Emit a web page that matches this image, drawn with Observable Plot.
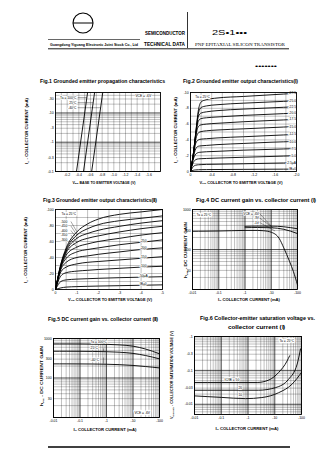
<!DOCTYPE html>
<html><head><meta charset="utf-8">
<script src="https://cdn.jsdelivr.net/npm/d3@7"></script>
<script src="https://cdn.jsdelivr.net/npm/@observablehq/plot@0.6"></script>
<style>
html,body{margin:0;padding:0;background:#fff;}
#root{position:relative;width:336px;height:475px;overflow:hidden;background:#fff;}
#root svg{position:absolute;overflow:visible;}
</style></head><body><div id="root"></div>
<script>
// ================= DATA =================
// Fig.1 propagation characteristics (|Ic| mA, log) vs VBE (V)
const fig1Temps = ["100°C", "25°C", "-40°C"];
const fig1IcEnds = [0.1, 50];               // |Ic| at bottom and top of each line
const fig1VbeAtLow = [-0.36, -0.48, -0.62];  // VBE at |Ic| = 0.1 mA
const fig1VbeAtHigh = [-0.55, -0.67, -0.81]; // VBE at |Ic| = 50 mA
const fig1XTicks = [-0.2, -0.4, -0.6, -0.8, -1.0, -1.2, -1.4, -1.6];
const fig1YTicks = [50, 30, 10, 5, 3, 1, 0.5, 0.3, 0.1];

// Fig.2 output characteristics (I)
const fig2Vce = [0, -0.05, -0.1, -0.15, -0.2, -0.3, -0.5, -1.0, -1.5, -2.0];
const fig2IbLabels = ["-27.5", "-25.0", "-22.5", "-20.0", "-17.5", "-15.0", "-12.5", "-10.0", "-7.5", "-5.0", "-2.5μA", "IB=0"];
const fig2Ic = [
  [0, -2.0, -5.0, -7.8, -8.8, -9.1, -9.3, -9.5, -9.7, -9.9],
  [0, -2.0, -4.9, -7.4, -8.1, -8.3, -8.45, -8.65, -8.8, -8.95],
  [0, -2.0, -4.8, -7.0, -7.4, -7.55, -7.7, -7.9, -8.05, -8.2],
  [0, -2.0, -4.7, -6.4, -6.7, -6.8, -6.9, -7.1, -7.25, -7.4],
  [0, -2.0, -4.5, -5.7, -5.9, -6.0, -6.1, -6.3, -6.45, -6.6],
  [0, -1.9, -4.1, -4.9, -5.05, -5.15, -5.25, -5.4, -5.55, -5.7],
  [0, -1.8, -3.6, -4.0, -4.1, -4.15, -4.25, -4.4, -4.55, -4.7],
  [0, -1.7, -2.9, -3.2, -3.25, -3.3, -3.4, -3.55, -3.7, -3.8],
  [0, -1.5, -2.2, -2.4, -2.45, -2.5, -2.55, -2.7, -2.8, -2.9],
  [0, -1.1, -1.5, -1.6, -1.62, -1.65, -1.7, -1.8, -1.9, -2.0],
  [0, -0.6, -0.8, -0.85, -0.87, -0.9, -0.92, -0.98, -1.05, -1.1],
  [0, -0.15, -0.2, -0.22, -0.23, -0.24, -0.25, -0.27, -0.29, -0.3]
];
const fig2XTicks = [0, -0.4, -0.8, -1.2, -1.6, -2.0];
const fig2YTicks = [0, -2, -4, -6, -8, -10];

// Fig.3 output characteristics (II)
const fig3Vce = [0, -0.25, -0.5, -1, -1.5, -2, -3, -4, -5];
const fig3Ib = ["-500", "-450", "-400", "-350", "-300", "-250", "-200", "-150", "-100", "-50μA", "IB=0"];
const fig3Ic = [
  [0, -32, -52, -72, -82, -88, -94, -97, -100],
  [0, -31, -50, -68, -76, -81, -86, -89, -92],
  [0, -30, -48, -64, -70, -74, -79, -83, -86],
  [0, -29, -46, -59, -64, -67, -72, -76, -79],
  [0, -28, -43, -53, -57, -60, -64, -68, -71],
  [0, -27, -39, -47, -50, -52, -56, -59, -62],
  [0, -25, -34, -40, -42, -44, -47, -50, -52],
  [0, -22, -28, -32, -34, -35, -37, -39, -41],
  [0, -17, -21, -23, -24, -25, -26.5, -28, -29],
  [0, -10, -12, -13, -13.5, -14, -14.8, -15.4, -16],
  [0, -2, -3, -3.6, -4, -4.3, -4.8, -5.3, -5.8]
];
const fig3XTicks = [0, -1, -2, -3, -4, -5];
const fig3YTicks = [0, -20, -40, -60, -80, -100];

// Fig.4 hFE vs |Ic| (mA), Ta = 25°C
const fig4Vce = ["-6V", "-3V", "-1V"];
const fig4Ic = [
  [1, 3, 10, 30, 100],
  [1, 3, 10, 30, 100],
  [0.01, 0.03, 0.1, 0.3, 1, 3, 5, 10, 20, 30, 50, 70, 100]
];
const fig4Hfe = [
  [380, 385, 385, 370, 330],
  [350, 355, 350, 320, 250],
  [285, 287, 290, 295, 300, 300, 295, 270, 190, 110, 50, 28, 13]
];
const icTicks = [0.01, 0.03, 0.1, 0.3, 1, 3, 10, 30, 100];
const hfeTicks = [1000, 300, 100, 30];

// Fig.5 hFE vs |Ic| (mA), VCE = -6V
const fig5Temps = ["100°C", "25°C", "-40°C"];
const fig5Ic = [0.01, 0.03, 0.1, 0.3, 1, 3, 10, 30, 100];
const fig5Hfe = [
  [730, 730, 728, 722, 712, 690, 640, 540, 410],
  [475, 475, 473, 470, 463, 450, 420, 370, 305],
  [228, 228, 227, 226, 223, 218, 208, 195, 180]
];

// Fig.6 |VCE(sat)| (V) vs |Ic| (mA)
const fig6Ratio = ["50", "20", "10"];
const fig6Ic = [
  [0.01, 0.1, 1, 2.2, 6, 14, 29, 36],
  [0.01, 0.1, 1, 2.5, 10.6, 33, 69, 92],
  [0.01, 0.1, 0.8, 3.3, 14, 44, 100]
];
const fig6Vsat = [
  [0.044, 0.044, 0.044, 0.044, 0.052, 0.087, 0.19, 0.27],
  [0.026, 0.026, 0.026, 0.026, 0.031, 0.055, 0.154, 0.43],
  [0.0177, 0.016, 0.0147, 0.0158, 0.022, 0.039, 0.087]
];
const fig6YTicks = [1, 0.3, 0.1, 0.03, 0.01];

// ================= DRAWING =================
const root = document.getElementById("root");
const FONT = "'Liberation Sans', Arial, sans-serif";
const minor = {stroke: "#000", strokeOpacity: 0.62, strokeWidth: 0.4};
const major = {stroke: "#000", strokeOpacity: 0.9, strokeWidth: 0.6};
const curve = {stroke: "#000", strokeWidth: 0.9};
const lab = {fontSize: 3.3, fill: "#000", stroke: "#fff", strokeWidth: 1.6};

function logGrid(lo, hi) {
  const out = [];
  for (let e = Math.floor(Math.log10(lo)) - 1; e <= Math.ceil(Math.log10(hi)); e++)
    for (let m = 1; m <= 9; m++) {
      const v = +(m * Math.pow(10, e)).toPrecision(3);
      if (v >= lo * 0.999 && v <= hi * 1.001) out.push(v);
    }
  return out;
}
const decades = v => v.filter(d => Math.abs(Math.log10(d) - Math.round(Math.log10(d))) < 1e-6);

function chart(o) {
  const [x0, y0, x1, y1] = o.rect;
  const svg = Plot.plot({
    width: x1 - x0 + o.ml + o.mr, height: y1 - y0 + o.mt + o.mb,
    marginLeft: o.ml, marginRight: o.mr, marginTop: o.mt, marginBottom: o.mb,
    x: Object.assign({label: null, tickSize: 0, tickPadding: 2.4}, o.x),
    y: Object.assign({label: null, tickSize: 0, tickPadding: 1.8}, o.y),
    style: {fontSize: "3.5px", fontFamily: FONT, background: "transparent", color: "#000", overflow: "visible"},
    marks: [...o.marks, Plot.frame({stroke: "#000", strokeWidth: 0.9})]
  });
  svg.style.left = (x0 - o.ml) + "px";
  svg.style.top = (y0 - o.mt) + "px";
  root.appendChild(svg);
}

// ---- Fig.1
const fig1Lines = fig1Temps.flatMap((t, k) => [
  {t, v: fig1VbeAtLow[k], i: fig1IcEnds[0]},
  {t, v: fig1VbeAtHigh[k], i: fig1IcEnds[1]}
]);
chart({
  rect: [55, 92, 160, 171], ml: 16, mr: 4, mt: 3, mb: 8,
  x: {domain: [0, -1.8], ticks: fig1XTicks, tickFormat: d => d.toFixed(1)},
  y: {type: "log", domain: [0.1, 50], ticks: fig1YTicks, tickFormat: d => "-" + d},
  marks: [
    Plot.ruleX(d3.range(1, 18).map(i => -i / 10), minor),
    Plot.ruleY(logGrid(0.1, 50), minor),
    Plot.ruleY(decades(logGrid(0.1, 50)), major),
    Plot.line(fig1Lines, {x: "v", y: "i", z: "t", ...curve}),
    Plot.link(fig1Temps.map((t, k) => ({k})), {
      x1: () => -0.38, y1: d => [33.6, 22.5, 15.1][d.k],
      x2: d => [-0.538, -0.645, -0.773][d.k], y2: d => [33.6, 22.5, 15.1][d.k],
      stroke: "#000", strokeWidth: 0.35
    }),
    Plot.text(fig1Temps.map((t, k) => ({t: k === 0 ? "Ta = " + t : t, i: [33.6, 22.5, 15.1][k]})),
      {x: () => -0.36, y: "i", text: "t", textAnchor: "end", ...lab}),
    Plot.text([{t: "VCE = -6V"}], {x: () => -1.37, y: () => 39, text: "t", textAnchor: "start", ...lab})
  ]
});

// ---- Fig.2
const fig2Data = fig2Ic.flatMap((row, k) => row.map((ic, j) => ({ib: fig2IbLabels[k], v: fig2Vce[j], ic})));
chart({
  rect: [190, 92, 296, 171], ml: 10, mr: 4, mt: 3, mb: 8,
  x: {domain: [0, -2], ticks: fig2XTicks, tickFormat: d => d === 0 ? "0" : d.toFixed(1)},
  y: {domain: [0, -10], ticks: fig2YTicks, tickFormat: d => d === 0 ? "0" : String(d)},
  marks: [
    Plot.ruleX(d3.range(1, 10).map(i => -i * 0.2), minor),
    Plot.ruleY(d3.range(1, 10).map(i => -i), minor),
    Plot.line(fig2Data, {x: "v", y: "ic", z: "ib", curve: "monotone-x", ...curve}),
    Plot.text(fig2IbLabels.map((t, k) => ({t, ic: fig2Ic[k][fig2Ic[k].length - 1]})),
      {x: () => -1.99, y: "ic", text: "t", textAnchor: "end", ...lab}),
    Plot.text([{t: "Ta = 25°C"}], {x: () => -0.09, y: () => -9.5, text: "t", textAnchor: "start", ...lab, strokeWidth: 2.4})
  ]
});

// ---- Fig.3
const fig3Data = fig3Ic.flatMap((row, k) => row.map((ic, j) => ({ib: fig3Ib[k], v: fig3Vce[j], ic})));
const fig3LeftY = [-85, -79.4, -73.75, -68.1, -62.5];
chart({
  rect: [55, 209, 162, 289], ml: 16, mr: 4, mt: 3, mb: 8,
  x: {domain: [0, -5], ticks: fig3XTicks, tickFormat: d => String(d)},
  y: {domain: [0, -100], ticks: fig3YTicks, tickFormat: d => String(d)},
  marks: [
    Plot.ruleX(d3.range(1, 10).map(i => -i * 0.5), minor),
    Plot.ruleY(d3.range(1, 10).map(i => -i * 10), minor),
    Plot.line(fig3Data, {x: "v", y: "ic", z: "ib", curve: "monotone-x", ...curve}),
    Plot.link(fig3LeftY, {x1: () => -0.72, y1: d => d, x2: () => -1, y2: (d, k) => fig3Ic[k][3], stroke: "#000", strokeWidth: 0.35}),
    Plot.text(fig3LeftY.map((y, k) => ({t: fig3Ib[k], y})), {x: () => -0.24, y: "y", text: "t", textAnchor: "start", ...lab}),
    Plot.text(fig3Ib.slice(5).map((t, k) => ({t, ic: fig3Ic[k + 5][7]})),
      {x: () => -4.1, y: "ic", text: "t", textAnchor: "middle", dy: -1.3, ...lab}),
    Plot.text([{t: "Ta = 25°C"}], {x: () => -0.28, y: () => -95, text: "t", textAnchor: "start", ...lab, strokeWidth: 2.4})
  ]
});

// ---- Fig.4
const fig4Data = fig4Vce.flatMap((s, k) => fig4Ic[k].map((ic, j) => ({s, ic, h: fig4Hfe[k][j]})));
const fig4LabH = [794, 613, 473];
chart({
  rect: [192, 209, 297, 289], ml: 10, mr: 4, mt: 3, mb: 8,
  x: {type: "log", domain: [0.01, 100], ticks: icTicks, tickFormat: d => "-" + d},
  y: {type: "log", domain: [10, 1000], ticks: hfeTicks, tickFormat: d => String(d)},
  marks: [
    Plot.ruleX(logGrid(0.01, 100), minor),
    Plot.ruleX(decades(logGrid(0.01, 100)), major),
    Plot.ruleY(logGrid(10, 1000), minor),
    Plot.ruleY(decades(logGrid(10, 1000)), major),
    Plot.line(fig4Data, {x: "ic", y: "h", z: "s", curve: "monotone-x", ...curve}),
    Plot.link(fig4LabH, {x1: () => 3.6, y1: d => d, x2: (d, k) => [10, 12, 14][k], y2: (d, k) => [385, 345, 290][k], stroke: "#000", strokeWidth: 0.35}),
    Plot.text(fig4Vce.map((v, k) => ({t: k === 0 ? "VCE = " + v : v, h: fig4LabH[k]})),
      {x: () => 3.4, y: "h", text: "t", textAnchor: "end", ...lab}),
    Plot.text([{t: "Ta = 25°C"}], {x: () => 0.0142, y: () => 750, text: "t", textAnchor: "start", ...lab, strokeWidth: 2.4})
  ]
});

// ---- Fig.5
const fig5Data = fig5Temps.flatMap((t, k) => fig5Ic.map((ic, j) => ({t, ic, h: fig5Hfe[k][j]})));
chart({
  rect: [53, 338, 159, 417], ml: 14, mr: 4, mt: 3, mb: 8,
  x: {type: "log", domain: [0.01, 100], ticks: icTicks, tickFormat: d => "-" + d},
  y: {type: "log", domain: [10, 1000], ticks: hfeTicks, tickFormat: d => String(d)},
  marks: [
    Plot.ruleX(logGrid(0.01, 100), minor),
    Plot.ruleX(decades(logGrid(0.01, 100)), major),
    Plot.ruleY(logGrid(10, 1000), minor),
    Plot.ruleY(decades(logGrid(10, 1000)), major),
    Plot.line(fig5Data, {x: "ic", y: "h", z: "t", curve: "monotone-x", ...curve}),
    Plot.link([{a: 560, b: 480}, {a: 330, b: 232}], {x1: () => 0.77, y1: "a", x2: () => 0.77, y2: "b", stroke: "#000", strokeWidth: 0.35}),
    Plot.text(fig5Temps.map((t, k) => ({t: k === 0 ? "Ta = " + t : t, h: [839, 592, 285][k]})),
      {x: () => 0.25, y: "h", text: "t", textAnchor: "start", ...lab}),
    Plot.text([{t: "VCE = -6V"}], {x: () => 11.3, y: () => 13, text: "t", textAnchor: "start", ...lab, strokeWidth: 2.4})
  ]
});

// ---- Fig.6
const fig6Data = fig6Ratio.flatMap((r, k) => fig6Ic[k].map((ic, j) => ({r, ic, v: fig6Vsat[k][j]})));
chart({
  rect: [194, 336, 301, 414], ml: 12, mr: 4, mt: 3, mb: 8,
  x: {type: "log", domain: [0.01, 100], ticks: icTicks, tickFormat: d => "-" + d},
  y: {type: "log", domain: [0.005, 1], ticks: fig6YTicks, tickFormat: d => "-" + d},
  marks: [
    Plot.ruleX(logGrid(0.01, 100), minor),
    Plot.ruleX(decades(logGrid(0.01, 100)), major),
    Plot.ruleY(logGrid(0.005, 1), minor),
    Plot.ruleY(decades(logGrid(0.005, 1)), major),
    Plot.line(fig6Data, {x: "ic", y: "v", z: "r", curve: "monotone-x", ...curve}),
    Plot.text(fig6Ratio.map((r, k) => ({t: k === 0 ? "IC/IB = " + r : r, v: [0.052, 0.031, 0.0188][k], i: [0.132, 0.44, 0.44][k]})),
      {x: "i", y: "v", text: "t", textAnchor: "start", ...lab}),
    Plot.text([{t: "Ta = 25°C"}], {x: () => 15, y: () => 0.76, text: "t", textAnchor: "start", ...lab, strokeWidth: 2.4})
  ]
});

// ---- Page texts (header, titles, axis titles)
const sub = (a, s, rest) => `${a}<tspan dy="0.8" font-size="2.4">${s}</tspan><tspan dy="-0.8">${rest}</tspan>`;
function xTitle(cx, y, len, html) {
  return `<text x="${cx}" y="${y}" text-anchor="middle" font-size="3.3" font-weight="bold" textLength="${len}" lengthAdjust="spacingAndGlyphs">${html}</text>`;
}
function yTitle(x, cy, len, html) {
  return `<text transform="translate(${x},${cy}) rotate(-90)" text-anchor="middle" font-size="3.3" font-weight="bold" textLength="${len}" lengthAdjust="spacingAndGlyphs">${html}</text>`;
}
function title(x, y, len, s) {
  return `<text x="${x}" y="${y}" font-size="4.8" font-weight="bold" textLength="${len}" lengthAdjust="spacingAndGlyphs">${s}</text>`;
}
const IC = sub("I", "C", " - COLLECTOR CURRENT (mA)");
const HFE = sub("h", "FE", " - DC CURRENT GAIN");
const overlay = `<svg width="336" height="475" style="left:0;top:0" font-family="${FONT}" fill="#000">
  <circle cx="83" cy="23" r="10" fill="none" stroke="#000" stroke-width="1.1"/>
  <line x1="73" x2="93" y1="23" y2="23" stroke="#000" stroke-width="1"/>
  <line x1="48" x2="140" y1="39.5" y2="39.5" stroke="#000" stroke-width="0.6"/>
  <text x="50" y="46.3" font-size="3" font-weight="bold" textLength="88" lengthAdjust="spacingAndGlyphs">Guangdong Yiguang Electronic Joint Stock Co., Ltd</text>
  <text x="145" y="35" font-size="5" font-weight="bold" textLength="40" lengthAdjust="spacingAndGlyphs">SEMICONDUCTOR</text>
  <text x="144" y="46.3" font-size="5" font-weight="bold" textLength="41" lengthAdjust="spacingAndGlyphs">TECHNICAL DATA</text>
  <line x1="187.5" x2="187.5" y1="12" y2="48" stroke="#000" stroke-width="0.8"/>
  <text x="212" y="35" font-size="8" textLength="35" lengthAdjust="spacingAndGlyphs">2S•1•••</text>
  <text x="195" y="46.3" font-size="4.4" font-family="'Liberation Serif', serif" textLength="90" lengthAdjust="spacingAndGlyphs">PNP EPITAXIAL SILICON TRANSISTOR</text>
  <line x1="48" x2="289" y1="48.8" y2="48.8" stroke="#000" stroke-width="0.9"/>
  <text x="255" y="68" font-size="5" font-weight="bold" textLength="22" lengthAdjust="spacingAndGlyphs">•••••••</text>
  ${title(40, 82.5, 125, "Fig.1  Grounded emitter propagation characteristics")}
  ${title(183, 82.5, 115, "Fig.2  Grounded emitter output characteristics(Ⅰ)")}
  ${title(43, 202, 114, "Fig.3  Grounded emitter output characteristics(Ⅱ)")}
  ${title(196, 202, 120, "Fig.4  DC current gain vs. collector current (Ⅰ)")}
  ${title(48, 320.5, 110, "Fig.5  DC current gain vs. collector current (Ⅱ)")}
  ${title(200, 320, 115, "Fig.6  Collector-emitter saturation voltage vs.")}
  ${title(228, 328.5, 57, "collector current (Ⅰ)")}
  ${xTitle(104, 183.5, 63, sub("V", "BE", "  BASE TO EMITTER VOLTAGE (V)"))}
  ${xTitle(241, 183.5, 83, sub("V", "CE", "  COLLECTOR TO EMITTER VOLTAGE (V)"))}
  ${xTitle(110, 300.5, 84, sub("V", "CE", "  COLLECTOR TO EMITTER VOLTAGE (V)"))}
  ${xTitle(249, 300.5, 62, sub("I", "C", "  COLLECTOR CURRENT (mA)"))}
  ${xTitle(105, 430.5, 63, sub("I", "C", "  COLLECTOR CURRENT (mA)"))}
  ${xTitle(247, 429.5, 63, sub("I", "C", "  COLLECTOR CURRENT (mA)"))}
  ${yTitle(28, 131, 66, IC)}
  ${yTitle(177, 130, 66, IC)}
  ${yTitle(27, 250, 66, IC)}
  ${yTitle(187, 250, 56, HFE)}
  ${yTitle(43, 376, 60, HFE)}
  ${yTitle(173, 375, 88, sub("V", "CE(sat)", " - COLLECTOR SATURATION VOLTAGE (V)"))}
  <line x1="48" x2="290" y1="447" y2="447" stroke="#000" stroke-width="1.4"/>
</svg>`;
root.insertAdjacentHTML("beforeend", overlay);
</script></body></html>
